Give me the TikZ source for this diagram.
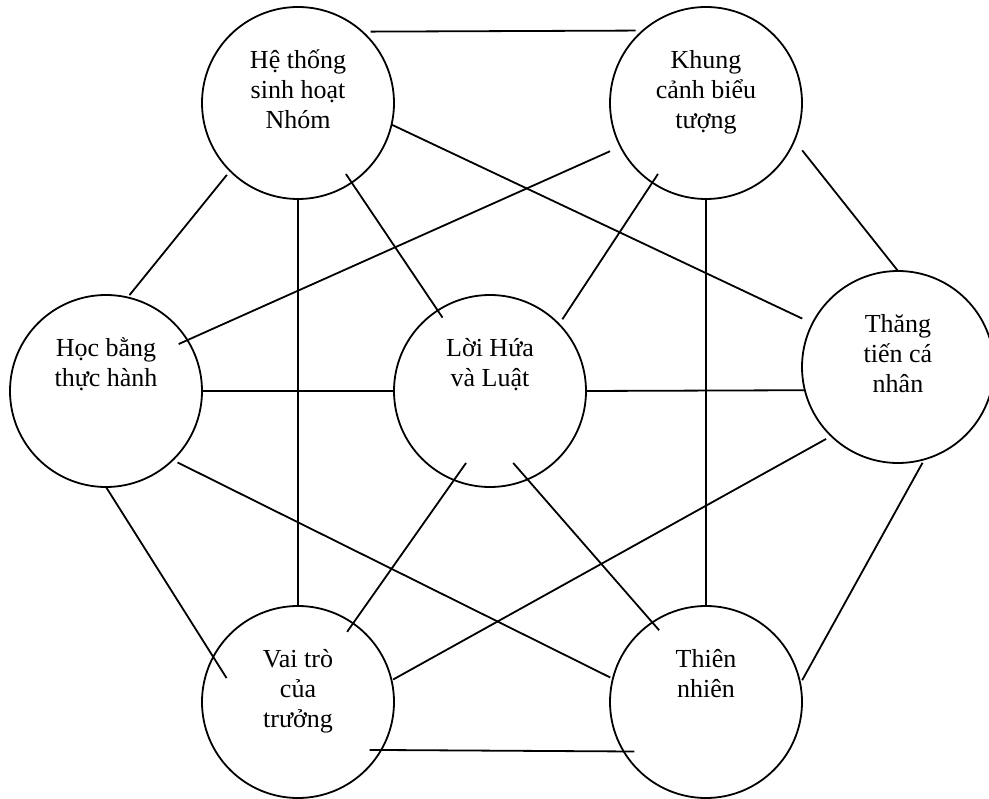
\documentclass[tikz,border=0pt]{standalone}
\usepackage{fontspec}
\setmainfont{Liberation Serif}
\usetikzlibrary{positioning}
\newcommand{\firstline}{\rule{0pt}{13pt}}

\begin{document}
\begin{tikzpicture}[
    x=0.5pt,y=0.5pt,
    ring/.style={draw,circle,line width=0.9pt,minimum size=96pt,inner sep=0pt,outer sep=0pt},
    txt/.style={align=center,inner sep=0pt,font=\fontsize{13pt}{15pt}\selectfont},
    link/.style={line width=0.9pt}
]
\useasboundingbox (0,0) rectangle (989,798);
\node[ring] (hethong) at (298,695) {};
\node[ring] (khung) at (706,695) {};
\node[ring] (hoc) at (106,407) {};
\node[ring] (loihua) at (490,407) {};
\node[ring] (thangtien) at (898,431) {};
\node[ring] (vaitro) at (298,96) {};
\node[ring] (thiennhien) at (706,96) {};
\node[txt,below=17.5pt of hethong.north] (hethongtxt) {\firstline Hệ thống\\sinh hoạt\\Nhóm};
\node[txt,below=17.5pt of khung.north] (khungtxt) {\firstline Khung\\cảnh biểu\\tượng};
\node[txt,below=17.5pt of hoc.north] (hoctxt) {\firstline Học bằng\\thực hành};
\node[txt,below=17.5pt of loihua.north] (loihuatxt) {\firstline Lời Hứa\\và Luật};
\node[txt,below=17.5pt of thangtien.north] (thangtientxt) {\firstline Thăng\\tiến cá\\nhân};
\node[txt,below=17.5pt of vaitro.north] (vaitrotxt) {\firstline Vai trò\\của\\trưởng};
\node[txt,below=17.5pt of thiennhien.north] (thiennhientxt) {\firstline Thiên\\nhiên};
\draw[link,shorten <=4.25pt,shorten >=3.75pt] (hethong.48.6) -- (khung.131.4);
\draw[link,shorten >=5.65pt] (hethong.-13.4) -- (thangtien.153.3);
\draw[link,shorten <=2.6pt,shorten >=1.5pt] (hethong.-135.7) -- (hoc.77.3);
\draw[link,shorten <=-5.15pt,shorten >=-4.3pt] (hethong.-56) -- (loihua.123.4);
\draw[link] (hethong.south) -- (vaitro.north);
\draw[link,shorten <=5.7pt,shorten >=-4.8pt] (khung.-153.1) -- (hoc.32.7);
\draw[link,shorten <=-5.15pt,shorten >=3pt] (khung.-124) -- (loihua.44.3);
\draw[link] (khung.south) -- (thiennhien.north);
\draw[link,shorten <=6.3pt] (khung.-23.4) -- (thangtien.north);
\draw[link] (hoc.east) -- (loihua.west);
\draw[link] (loihua.east) -- (thangtien.194.5);
\draw[link,shorten <=2.7pt,shorten >=1.5pt] (hoc.-46.4) -- (thiennhien.166.3);
\draw[link,shorten >=-12.5pt] (hoc.south) -- (vaitro.152.5);
\draw[link,shorten <=-10.4pt,shorten >=-5.15pt] (loihua.-112.1) -- (vaitro.55.8);
\draw[link,shorten <=-10.9pt,shorten >=-5.2pt] (loihua.-67.2) -- (thiennhien.124.8);
\draw[link,shorten <=3pt,shorten >=0.9pt] (thangtien.-134) -- (vaitro.13.3);
\draw[link,shorten <=2pt,shorten >=2pt] (thangtien.-74.3) -- (thiennhien.11.7);
\draw[link,shorten <=-5.8pt,shorten >=-5.3pt] (vaitro.-30.7) -- (thiennhien.-149.3);
\end{tikzpicture}
\end{document}
